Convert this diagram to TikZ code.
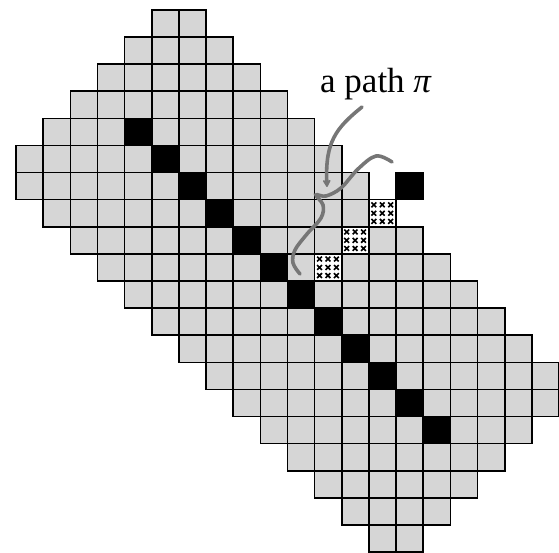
\documentclass[tikz,border=0pt]{standalone}
\usepackage{fontspec}
\setmainfont{Liberation Serif}
\usetikzlibrary{arrows.meta}
\definecolor{cellgray}{RGB}{214,214,214}
\definecolor{pathgray}{RGB}{118,118,118}
\begin{document}
\begin{tikzpicture}[x=1pt,y=-1pt,
  cell/.style={fill=cellgray,draw=black,line width=1.6pt},
  blackcell/.style={fill=black,draw=black,line width=1.6pt},
  patcell/.style={fill=white,draw=black,line width=1.6pt},
  xmark/.style={draw=black,line width=1.6pt},
  curve/.style={draw=pathgray,line width=3.6pt,line cap=round},
  lbl/.style={font=\fontsize{35}{38}\selectfont,inner sep=0pt}]
\useasboundingbox (0,0) rectangle (559,553);
\def\cw{27.15}
\def\ch{27.1}
% grey cells
\foreach \r/\a/\b in {0/5/6,1/4/7,2/3/8,3/2/9,4/1/10,5/0/11,6/0/12,7/1/13,8/2/14,9/3/15,10/4/16,11/5/17,12/6/18,13/7/19,14/8/19,15/9/18,16/10/17,17/11/16,18/12/15,19/13/14}{
  \foreach \c in {\a,...,\b}{
    \path[cell] ({16+\c*\cw},{10+\r*\ch}) rectangle ++(\cw,\ch);
  }
}
% black diagonal cells
\foreach \k in {4,...,15}{
  \path[blackcell] ({16+\k*\cw},{10+\k*\ch}) rectangle ++(\cw,\ch);
}
\path[blackcell] ({16+14*\cw},{10+6*\ch}) rectangle ++(\cw,\ch);
% patterned cells
\foreach \r/\c in {7/13,8/12,9/11}{
  \path[patcell] ({16+\c*\cw},{10+\r*\ch}) rectangle ++(\cw,\ch);
  \foreach \i in {0.18,0.49,0.8}{
    \foreach \j in {0.19,0.5,0.8}{
      \draw[xmark] ({16+(\c+\i)*\cw-2.4},{10+(\r+\j)*\ch-2.4}) -- ++(4.8,4.8)
                   ({16+(\c+\i)*\cw-2.4},{10+(\r+\j)*\ch+2.4}) -- ++(4.8,-4.8);
    }
  }
}
% label
\node[lbl,anchor=base] (label) at (376,93) {a path \textit{π}};
% arrow curve
\coordinate (a0) at (362,107);
\coordinate (a1) at (327,187);
\draw[curve,-{Stealth[length=9pt,width=10pt,inset=3pt,round]}] (a0) .. controls (336,128) and (325,142) .. (a1);
% the path pi
\coordinate (p0) at (392,162);
\coordinate (p1) at (300,274);
\draw[curve] plot[smooth,tension=0.6] coordinates {(p0) (376,156) (358,169) (341,188) (326,196) (316,195) (323,205) (321,218) (307,234) (295,250) (293,263) (p1)};
\end{tikzpicture}
\end{document}
